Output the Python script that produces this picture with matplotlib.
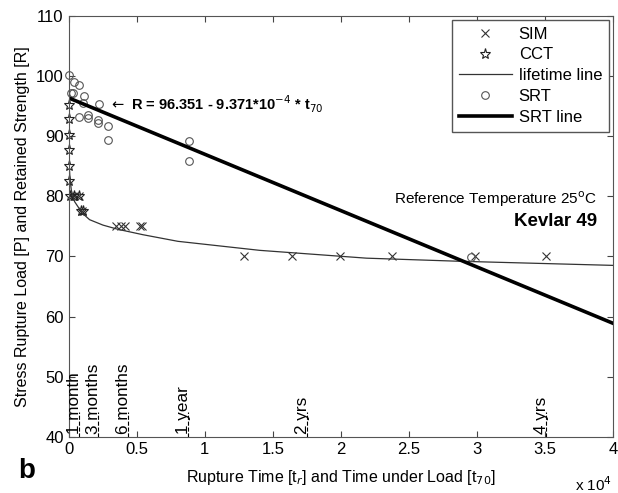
import numpy as np
import matplotlib.pyplot as plt

plt.rcParams['font.family'] = ['Liberation Sans', 'DejaVu Sans']

# SIM data (time in hours, load in %)
sim_t = [100, 400, 800, 1000, 3500, 3870, 4120, 5220, 5420,
         12860, 16440, 19920, 23770, 29840, 35100]
sim_p = [80, 80, 80, 77.5, 75, 75, 75, 75, 75,
         70, 70, 70, 70, 70, 70]

# CCT data
cct_t = [0, 0, 0, 0, 0, 50, 100, 400, 800, 900, 1050]
cct_p = [95.2, 92.8, 90.2, 87.7, 85.1, 82.6, 80, 80, 80, 77.5, 77.5]

# lifetime line
life_t = [1, 10, 50, 100, 200, 440, 1000, 1540, 2520, 3620, 5460,
          8030, 14040, 21880, 28500, 40000]
life_p = [97, 90, 85, 83, 81, 79.1, 77.2, 76.1, 75.2, 74.5, 73.6,
          72.5, 71.0, 69.7, 69.2, 68.5]

# SRT data (retained strength)
srt_t = [20, 370, 735, 320, 150, 1100, 1050, 2200, 735, 1420, 1420,
         2150, 2150, 2890, 2890, 8840, 8840, 29600]
srt_r = [100.1, 99.0, 98.5, 97.1, 97.2, 96.7, 95.5, 95.3, 93.2, 93.5, 93.0,
         92.7, 92.1, 91.6, 89.4, 89.1, 85.8, 69.9]

# SRT regression line end points
srt_line_t = [0, 40000]
srt_line_r = [96.351, 96.351 - 9.371e-4 * 40000]

# time milestones (hours)
mile_t = [730, 2190, 4380, 8760, 17520, 35040]
mile_lbl = ['1 month', '3 months', '6 months', '1 year', '2 yrs', '4 yrs']

xticks = [0, 5000, 10000, 15000, 20000, 25000, 30000, 35000, 40000]
xtick_lbl = ['0', '0.5', '1', '1.5', '2', '2.5', '3', '3.5', '4']
yticks = [40, 50, 60, 70, 80, 90, 100, 110]

fig = plt.figure(figsize=(6.18, 4.93), dpi=100)
ax = fig.add_axes([0.111, 0.114, 0.881, 0.854])

ax.plot(sim_t, sim_p, 'x', color='#333333', ms=6, mew=0.8, label='SIM')
ax.plot(cct_t, cct_p, '*', color='#222222', mfc='none', ms=8, mew=0.8,
        label='CCT', clip_on=False)
ax.plot(life_t, life_p, '-', color='#333333', lw=0.9, label='lifetime line')
ax.plot(srt_t, srt_r, 'o', color='#555555', mfc='none', ms=5.5, mew=0.8,
        label='SRT', clip_on=False)
ax.plot(srt_line_t, srt_line_r, '-', color='black', lw=2.6, label='SRT line')

for t, lbl in zip(mile_t, mile_lbl):
    ax.plot([t, t], [40, 44.2], '--', color='black', lw=0.8)
    ax.text(t, 40.5, lbl, rotation=90, rotation_mode='anchor',
            ha='left', va='baseline', fontsize=12.3)

ax.text(3000, 95.35, r'$\leftarrow$ R = 96.351 - 9.371*10$^{-4}$ * t$_{70}$',
        fontsize=10.5, fontweight='bold', va='center')
ax.text(38800, 79.5, 'Reference Temperature 25$^{\\rm o}$C', fontsize=11,
        ha='right', va='center')
ax.text(38800, 75.8, 'Kevlar 49', fontsize=13.5, fontweight='bold',
        ha='right', va='center')

ax.set_xlim(0, 40000)
ax.set_ylim(40, 110)
ax.set_xticks(xticks)
ax.set_xticklabels(xtick_lbl)
ax.set_yticks(yticks)
ax.tick_params(direction='in', top=True, right=True, labelsize=12,
               length=4, color='#444444')
for s in ax.spines.values():
    s.set_color('#555555')

ax.set_xlabel('Rupture Time [t$_r$] and Time under Load [t$_{70}$]',
              fontsize=11.5, labelpad=8)
ax.set_ylabel('Stress Rupture Load [P] and Retained Strength [R]',
              fontsize=11.5, labelpad=4)
fig.text(0.93, 0.005, 'x 10$^4$', fontsize=11)
fig.text(0.03, 0.03, 'b', fontsize=20, fontweight='bold')

ax.legend(loc='upper right', fontsize=12, frameon=True, fancybox=False,
          edgecolor='#555555', framealpha=1, handlelength=3.2,
          borderaxespad=0.25, labelspacing=0.35, handletextpad=0.4)

fig.savefig('out.png', dpi=100)
